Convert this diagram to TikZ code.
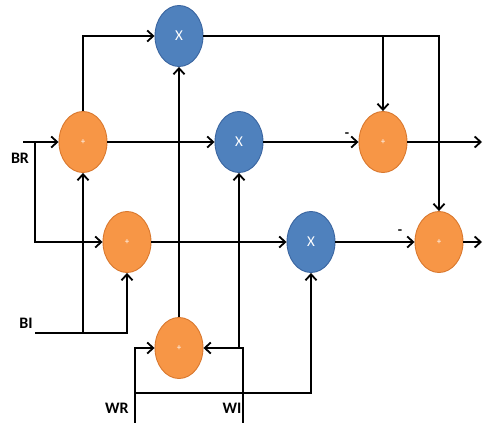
\documentclass[tikz,border=0pt]{standalone}
\usepackage{fontspec}
\setmainfont{Carlito}
\usetikzlibrary{shapes.geometric,arrows.meta}
\definecolor{addfill}{HTML}{F79646}
\definecolor{addline}{HTML}{D9782E}
\definecolor{mulfill}{HTML}{4F81BD}
\definecolor{mulline}{HTML}{3A65A0}
\begin{document}
\begin{tikzpicture}[x=1pt,y=-1pt,
  wire/.style={line width=2.2pt,draw=black},
  arr/.style={wire,-{Straight Barb[length=6pt,width=11pt,line width=1.8pt]}},
  addnode/.style={ellipse,fill=addfill,draw=addline,line width=0.9pt,
    minimum width=48pt,minimum height=61pt,inner sep=0pt,text=white,font=\fontsize{9}{9}\selectfont},
  mulnode/.style={ellipse,fill=mulfill,draw=mulline,line width=0.9pt,
    minimum width=48pt,minimum height=61pt,inner sep=0pt,text=white,font=\fontsize{15}{15}\selectfont},
  lbl/.style={font=\fontsize{16}{16}\selectfont\bfseries,inner sep=0pt},
  sign/.style={font=\fontsize{14}{14}\selectfont\bfseries,inner sep=0pt}]
\useasboundingbox (0,0) rectangle (483,423);

% adders and multipliers
\node[addnode] (a1) at (83,142) {+};
\node[mulnode] (m1) at (179,36) {X};
\node[mulnode] (m2) at (239,142) {X};
\node[addnode] (a2) at (383,142) {+};
\node[addnode] (a3) at (127,242) {+};
\node[mulnode] (m3) at (311,242) {X};
\node[addnode] (a4) at (439,242) {+};
\node[addnode] (a5) at (179,348) {+};

% input labels
\node[lbl] (brl) at (20,158) {BR};
\node[lbl] (bil) at (26,323) {BI};
\node[lbl] (wrl) at (117,408) {WR};
\node[lbl] (wil) at (232,408) {WI};

% wire end points
\coordinate (br) at (23,142);
\coordinate (brs) at (35,142);
\coordinate (bi) at (35,333);
\coordinate (wr) at (135,423);
\coordinate (wrs) at (135,393);
\coordinate (wi) at (243,423);
\coordinate (out1) at (482,142);
\coordinate (out2) at (482,242);

% BR input
\draw[arr] (br) -- (a1.west);
\draw[arr] (brs) |- (a3.west);

% BI input
\draw[arr] (bi) -| (a3.south);
\draw[arr] (a1.south |- bi) -- (a1.south);

% first adder outputs
\draw[arr] (a1.north) |- (m1.west);
\draw[arr] (a1.east) -- (m2.west);

% top multiplier output
\draw[arr] (m1.east) -| (a4.north);
\draw[arr] (a2.north |- m1.east) -- (a2.north);

% middle row
\draw[arr] (m2.east) -- (a2.west);
\node[sign] (s1) at (347,135) {-};
\draw[arr] (a2.east) -- (out1);

% lower row
\draw[arr] (a3.east) -- (m3.west);
\draw[arr] (m3.east) -- (a4.west);
\node[sign] (s2) at (400,232) {-};
\draw[arr] (a4.east) -- (out2);

% twiddle inputs
\draw[arr] (a5.north) -- (m1.south);
\draw[arr] (wr) |- (a5.west);
\draw[arr] (wrs) -| (m3.south);
\draw[arr] (wi) |- (a5.east);
\draw[arr] (m2.south |- a5.east) -- (m2.south);
\end{tikzpicture}
\end{document}
